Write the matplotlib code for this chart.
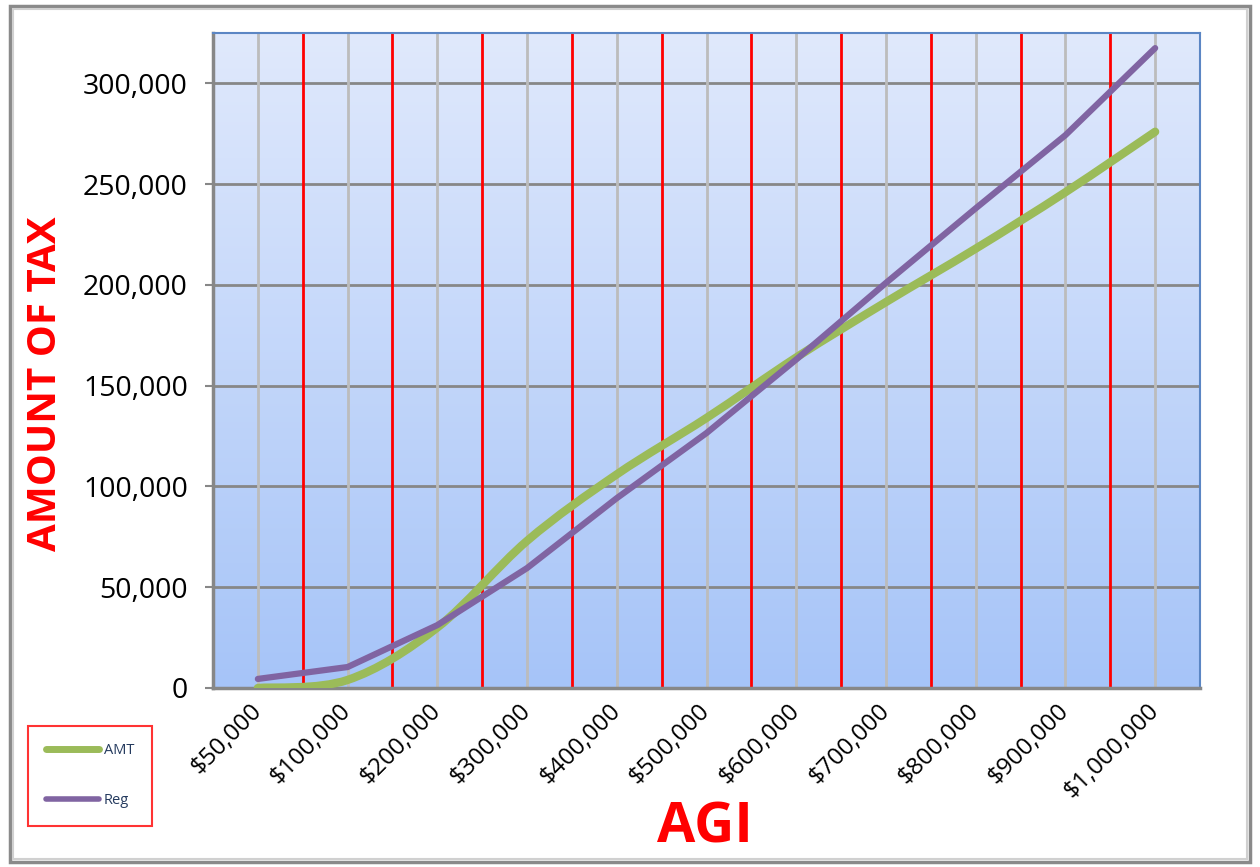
import numpy as np
import matplotlib
matplotlib.use("Agg")
import matplotlib.pyplot as plt
from matplotlib.path import Path
from matplotlib.patches import PathPatch, Rectangle
from matplotlib.lines import Line2D
from matplotlib.transforms import ScaledTranslation

# data
agi_labels = ["$50,000", "$100,000", "$200,000", "$300,000", "$400,000", "$500,000",
              "$600,000", "$700,000", "$800,000", "$900,000", "$1,000,000"]
amt_tax = [0, 4000, 30000, 73000, 106000, 134000, 164000, 191500, 218000, 246000, 276000]
reg_tax = [4500, 10400, 31200, 59500, 94200, 126500, 163000, 201000, 238000, 274300, 317500]
y_ticks = [0, 50000, 100000, 150000, 200000, 250000, 300000]

green = "#9bbb59"
purple = "#8064a2"


def smooth_path(xs, ys):
    # Catmull-Rom style bezier through the points (like a smoothed Excel line)
    pts = np.column_stack([xs, ys]).astype(float)
    ext = np.vstack([pts[0], pts, pts[-1]])
    verts = [pts[0]]
    codes = [Path.MOVETO]
    for i in range(len(pts) - 1):
        p0, p1, p2, p3 = ext[i], ext[i + 1], ext[i + 2], ext[i + 3]
        verts += [p1 + (p2 - p0) / 6, p2 - (p3 - p1) / 6, p2]
        codes += [Path.CURVE4] * 3
    return Path(verts, codes)


plt.rcParams["font.family"] = ["Open Sans", "DejaVu Sans"]
fig = plt.figure(figsize=(12.6, 8.67), dpi=100)
ax = fig.add_axes([213 / 1260, 1 - 688 / 867, 987 / 1260, 655 / 867])

# outer frame of the chart area
fig.patches.append(Rectangle((10 / 1260, 5 / 867), 1240 / 1260, 856 / 867, transform=fig.transFigure,
                             fill=False, edgecolor="#8a8a8a", linewidth=2.5))
fig.patches.append(Rectangle((13 / 1260, 8 / 867), 1234 / 1260, 850 / 867, transform=fig.transFigure,
                             fill=False, edgecolor="#d0d0d0", linewidth=1.5))

# gradient background, light at the top
grad = np.linspace(0, 1, 256).reshape(-1, 1)
cmap = matplotlib.colors.LinearSegmentedColormap.from_list("bg", ["#e0e9fc", "#a6c4f8"])
ax.imshow(grad, extent=[0, 1, 0, 1], origin="upper", transform=ax.transAxes, cmap=cmap,
          aspect="auto", zorder=0)

x = np.arange(len(agi_labels))
for v in y_ticks[1:]:
    ax.axhline(v, color="#878787", linewidth=2, zorder=1)
for xi in x:
    ax.axvline(xi, color="#bcbcbc", linewidth=2, zorder=1.2)
for xi in x[:-1] + 0.5:
    ax.axvline(xi, color="#ff0000", linewidth=2, zorder=1.4)

# lines
ax.add_patch(PathPatch(smooth_path(x, amt_tax), fill=False, edgecolor=green, linewidth=6,
                       capstyle="round", joinstyle="round", zorder=3))
ax.plot(x, reg_tax, color=purple, linewidth=4.5, solid_capstyle="round", solid_joinstyle="round", zorder=4)

ax.set_xlim(-0.5, len(agi_labels) - 0.5)
ax.set_ylim(0, 325000)
ax.set_xticks(x)
ax.set_xticklabels(agi_labels, rotation=45, ha="right", va="center", rotation_mode="anchor", fontsize=17.5)
shift = ScaledTranslation(6 / 100, 0, fig.dpi_scale_trans)
for lbl in ax.get_xticklabels():
    lbl.set_transform(lbl.get_transform() + shift)
ax.set_yticks(y_ticks)
ax.set_yticklabels([f"{v:,}" for v in y_ticks], fontsize=20.5)
ax.tick_params(axis="x", length=0, pad=14)
ax.tick_params(axis="y", length=6, width=1.5, color="#878787", pad=12)

for side in ["left", "bottom"]:
    ax.spines[side].set_color("#878787")
    ax.spines[side].set_linewidth(2.5)
for side in ["top", "right"]:
    ax.spines[side].set_color("#5b86c4")
    ax.spines[side].set_linewidth(1.5)

fig.text(46 / 1260, 1 - 384 / 867, "AMOUNT OF TAX", rotation=90, color="#ff0000", fontsize=29,
         fontweight="bold", ha="center", va="center")
fig.text(705 / 1260, 1 - 828 / 867, "AGI", color="#ff0000", fontsize=40, fontweight="bold",
         ha="center", va="center")

handles = [Line2D([], [], color=green, linewidth=5, solid_capstyle="round"),
           Line2D([], [], color=purple, linewidth=4, solid_capstyle="round")]
leg = fig.legend(handles, ["AMT", "Reg"], loc="upper left", bbox_to_anchor=(28 / 1260, 1 - 726 / 867),
                 labelcolor="#243a5e", handlelength=3.7, handletextpad=0.3,
                 labelspacing=2.4, borderpad=1.2, borderaxespad=0, fancybox=False,
                 prop={"family": "Open Sans", "size": 10.5})
leg.get_frame().set_edgecolor("#ff0000")
leg.get_frame().set_linewidth(1.5)

plt.savefig("out.png", dpi=100)
plt.close()
